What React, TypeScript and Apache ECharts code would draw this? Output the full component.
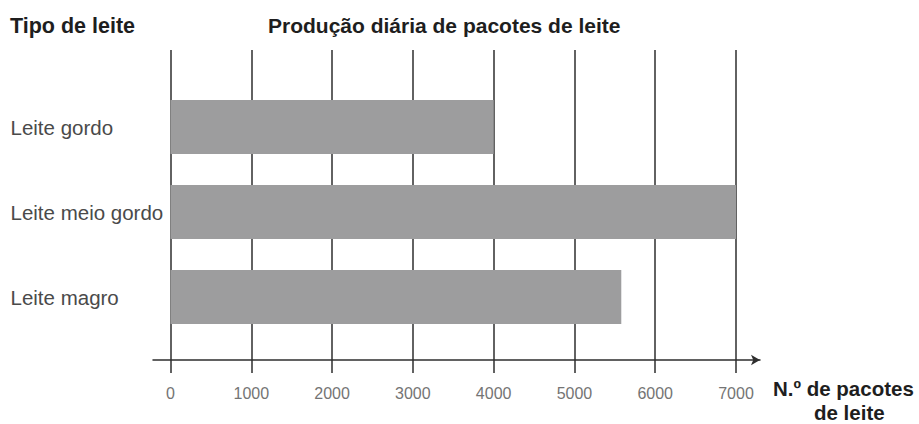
import React, { useEffect, useRef } from "react";
import * as echarts from "echarts";

const categories: string[] = ["Leite gordo", "Leite meio gordo", "Leite magro"];
const values: number[] = [4000, 7000, 5580];
const xMin = 0;
const xMax = 7000;
const xInterval = 1000;
const leftTitle = "Tipo de leite";
const mainTitle = "Produção diária de pacotes de leite";
const xTitleLine1 = "N.º de pacotes";
const xTitleLine2 = "de leite";

export default function App() {
  const ref = useRef<HTMLDivElement>(null);
  useEffect(() => {
    if (!ref.current) return;
    const chart = echarts.init(ref.current, undefined, { renderer: "svg" });
    const font = "'Liberation Sans', Arial, sans-serif";
    const option: any = {
      animation: false,
      textStyle: { fontFamily: font },
      grid: [
        { left: 170.5, right: 183, top: 84.5, bottom: 84.5, containLabel: false },
        { left: 170.5, right: 183, top: 50, bottom: 51, containLabel: false },
        { left: 153, right: 159, top: 50, bottom: 64, containLabel: false },
      ],
      xAxis: [
        {
          gridIndex: 0, type: "value", min: xMin, max: xMax, interval: xInterval,
          show: false,
        },
        {
          gridIndex: 1, type: "value", min: xMin, max: xMax, interval: xInterval,
          axisLine: { show: false }, axisTick: { show: false },
          splitLine: { show: true, lineStyle: { color: "#2e2e2e", width: 1.5 } },
          axisLabel: {
            color: "#747474", fontSize: 16, margin: 12, fontFamily: font,
            formatter: (v: number) => String(v),
          },
          z: 1,
        },
        {
          gridIndex: 2, type: "value", min: 0, max: 1,
          axisLine: { show: true, symbol: ["none", "arrow"], symbolSize: [8, 9], lineStyle: { color: "#2e2e2e", width: 1.5 } },
          axisTick: { show: false }, axisLabel: { show: false }, splitLine: { show: false },
          z: 1,
        },
      ],
      yAxis: [
        {
          gridIndex: 0, type: "category", data: categories, inverse: true,
          axisLine: { show: false }, axisTick: { show: false },
          axisLabel: { align: "left", margin: 160, color: "#4a4a4a", fontSize: 20.5, fontFamily: font },
        },
        { gridIndex: 1, type: "value", min: 0, max: 1, show: false },
        { gridIndex: 2, type: "value", min: 0, max: 1, show: false },
      ],
      series: [
        {
          type: "bar", xAxisIndex: 0, yAxisIndex: 0, data: values, barWidth: 54,
          itemStyle: { color: "#9d9d9e" }, z: 5,
        },
      ],
      graphic: [
        { type: "text", left: 10, top: 15, style: { text: leftTitle, font: `bold 21.5px ${font}`, fill: "#1e1e1e" } },
        { type: "text", left: 268, top: 15, style: { text: mainTitle, font: `bold 21px ${font}`, fill: "#1e1e1e" } },
        { type: "text", left: 773, top: 378, style: { text: xTitleLine1, font: `bold 20.5px ${font}`, fill: "#1e1e1e" } },
        { type: "text", left: 814, top: 402, style: { text: xTitleLine2, font: `bold 20.5px ${font}`, fill: "#1e1e1e" } },
      ],
    };
    chart.setOption(option);
    return () => chart.dispose();
  }, []);
  return (
    <div
      ref={ref}
      style={{ position: "absolute", left: 0, top: 0, width: 919, height: 424, background: "#fff" }}
    />
  );
}
